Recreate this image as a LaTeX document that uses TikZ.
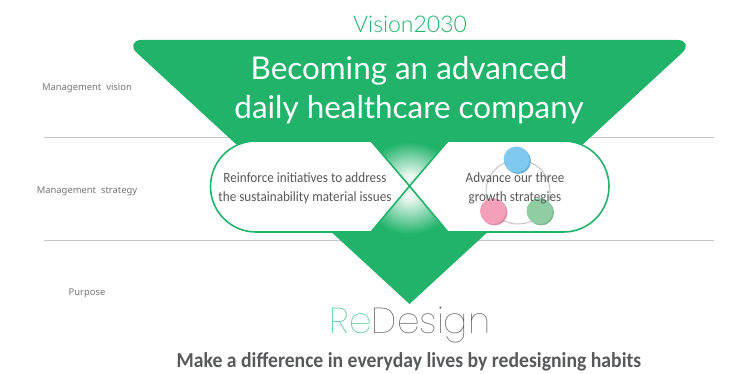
\documentclass[tikz,border=0pt]{standalone}
\usepackage{fontspec}
\setmainfont[FakeStretch=0.925]{Carlito}
\newfontfamily\titlefont{Lato}
\newfontfamily\visionfont[UprightFont=* Light]{Lato}
\newfontfamily\thinfont[UprightFont=* Thin]{Poppins}
\newfontfamily\labelfont[WordSpace=2]{Noto Sans}
\definecolor{visiongreen}{HTML}{22B36B}
\definecolor{textgray}{HTML}{58595B}
\definecolor{labelgray}{HTML}{757575}
\definecolor{rulegray}{HTML}{C4C4C4}
\definecolor{regreen}{HTML}{3CC48A}
\tikzset{
	rowlabel/.style={text=labelgray, font=\labelfont\fontsize{9.4}{9.4}\selectfont},
	pilltext/.style={text=textgray, align=center, font=\fontsize{14.2}{19}\selectfont},
	pillshape/.style={draw=visiongreen, fill=white, line width=1.6pt, line join=round},
	rowline/.style={draw=rulegray, line width=0.9pt}
}
\begin{document}
\begin{tikzpicture}[x=1pt,y=-1pt]
\useasboundingbox (0,0) rectangle (729,374);
%row lines
\draw [rowline] (44,137.5) -- (714,137.5);
\draw [rowline] (44,240.5) -- (714,240.5);
%big triangle
\fill [visiongreen] (141,40) -- (678,40) .. controls (686,40) and (689,47) .. (682,53) -- (409.5,304) -- (137,53) .. controls (130,47) and (133,40) .. (141,40) -- cycle;
%glow between the pills
\begin{scope}
\clip (340,120) rectangle (480,186);
\shade [inner color=white, outer color=visiongreen] (409.5,178) ellipse (44 and 36);
\end{scope}
\begin{scope}
\clip (340,186) rectangle (480,250);
\shade [inner color=white, outer color=visiongreen] (409.5,196) ellipse (44 and 38);
\end{scope}
%pills
\draw [pillshape] (371,141) -- (409.5,186) -- (371,232) -- (256,232) arc (90:270:45.5) -- cycle;
\draw [pillshape] (448,141) -- (409.5,186) -- (448,232) -- (563.5,232) arc (90:-90:45.5) -- cycle;
%growth ring
\draw [rulegray, line width=1pt] (518,192) circle (32);
\foreach \cx/\cy/\ctop/\cdark in {516.5/159.5/7FC8EE/6DB3DC, 493/211/F4A0B8/E08CA6, 539.5/211/8FCDA2/7FBB92}{
	\definecolor{ctopcol}{HTML}{\ctop}
	\definecolor{cdarkcol}{HTML}{\cdark}
	\fill [cdarkcol] (\cx+1.5,\cy+1.5) circle (13);
	\fill [ctopcol] (\cx,\cy) circle (13);
}
%texts
\node [text=visiongreen, font=\visionfont\fontsize{23}{23}\selectfont] (vision) at (410,24) {Vision2030};
\node [text=white, align=center, font=\titlefont\fontsize{31.4}{39}\selectfont] (becoming) at (409,90) {Becoming an advanced\\daily healthcare company};
\node [pilltext] (reinforce) at (305,188) {Reinforce initiatives to address\\the sustainability material issues};
\node [pilltext] (advance) at (515,188) {Advance our three\\growth strategies};
\node [rowlabel] (mvision) at (87,88) {Management vision};
\node [rowlabel] (mstrategy) at (87,191) {Management strategy};
\node [rowlabel] (purpose) at (87,293) {Purpose};
\node [font=\thinfont\fontsize{36}{36}\selectfont] (redesign) at (410,325) {\textcolor{regreen}{Re}\textcolor{textgray}{Design}};
\node [text=textgray, font=\bfseries\fontsize{21.3}{22}\selectfont] (habits) at (409,362) {Make a difference in everyday lives by redesigning habits};
\end{tikzpicture}
\end{document}
